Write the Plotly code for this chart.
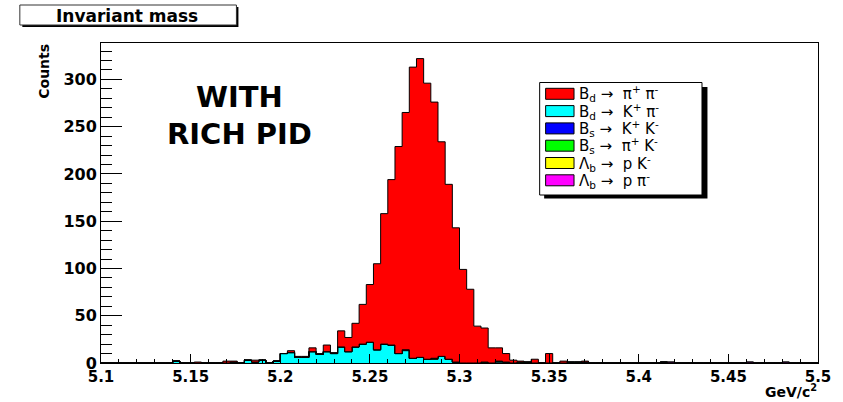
import numpy as np
import plotly.graph_objects as go

# ---------------- data (100 bins of 4 MeV from 5.1 to 5.5 GeV/c^2) ----------------
x_lo, x_hi, n_bins = 5.1, 5.5, 100

bd_pipi = [0, 0, 0, 0, 0, 0, 0, 0, 0, 0,
           0, 0, 0, 1, 0, 0, 0, 2, 1, 0,
           0, 2, 0, 0, 0, 0, 2, 1, 1, 4,
           1, 7, 1, 17, 15, 25, 42, 61, 91, 138,
           175, 219, 251, 308, 316, 292, 271, 227, 185, 142,
           99, 78, 39, 36, 16, 14, 9, 3, 1, 0,
           4, 0, 10, 0, 2, 0, 0, 1, 0, 0,
           0, 0, 0, 0, 0, 0, 0, 0, 0, 0,
           0, 0, 0, 0, 0, 0, 0, 0, 0, 0,
           0, 0, 0, 0, 0, 0, 0, 0, 0, 0]

bd_kpi = [0, 0, 0, 0, 0, 0, 0, 0, 0, 0,
          2, 0, 0, 0, 0, 0, 0, 0, 1, 0,
          3, 1, 3, 0, 2, 10, 11, 6, 6, 12,
          9, 12, 10, 17, 12, 17, 20, 22, 14, 20,
          19, 10, 13, 5, 6, 4, 4, 7, 4, 1,
          0, 0, 0, 0, 0, 1, 1, 0, 0, 0,
          0, 0, 0, 0, 0, 0, 0, 0, 0, 0,
          0, 0, 0, 0, 0, 0, 0, 0, 0, 0,
          0, 0, 0, 0, 0, 0, 0, 0, 0, 0,
          0, 0, 0, 0, 0, 0, 0, 0, 0, 0]

bs_kk = [0, 0, 0, 0, 0, 0, 0, 0, 0, 0,
         0, 0, 0, 0, 0, 0, 0, 0, 0, 0,
         0, 0, 0, 0, 0, 0, 0, 0, 0, 0,
         0, 0, 0, 0, 0, 0, 0, 0, 0, 0,
         0, 0, 1, 0, 0, 0, 0, 0, 0, 0,
         0, 0, 0, 0, 0, 0, 0, 0, 0, 0,
         0, 0, 0, 0, 0, 0, 0, 1, 0, 0,
         0, 0, 0, 0, 0, 0, 0, 0, 1, 0,
         0, 0, 0, 0, 0, 0, 0, 0, 0, 0,
         0, 0, 0, 0, 0, 0, 0, 0, 0, 0]

bs_pik = [0, 0, 0, 0, 0, 0, 0, 0, 0, 0,
          0, 0, 0, 0, 0, 0, 0, 0, 0, 0,
          0, 0, 0, 0, 0, 0, 0, 0, 0, 0,
          0, 0, 0, 0, 0, 0, 0, 0, 0, 0,
          0, 0, 0, 0, 0, 0, 1, 0, 0, 0,
          0, 0, 0, 1, 0, 1, 0, 0, 1, 1,
          0, 0, 0, 0, 0, 1, 1, 0, 0, 0,
          0, 0, 0, 0, 0, 0, 0, 0, 0, 0,
          0, 0, 0, 0, 0, 0, 0, 0, 0, 0,
          0, 0, 0, 0, 0, 0, 0, 0, 0, 0]

lb_pk = [0] * 100

lb_ppi = [0, 0, 0, 0, 0, 0, 0, 0, 0, 0,
          0, 0, 0, 0, 0, 0, 0, 0, 0, 0,
          0, 0, 0, 0, 0, 0, 0, 0, 0, 0,
          0, 0, 0, 0, 0, 0, 0, 0, 0, 0,
          0, 0, 0, 0, 0, 0, 0, 0, 0, 0,
          0, 0, 0, 0, 0, 0, 0, 0, 0, 0,
          0, 0, 0, 0, 0, 0, 0, 0, 0, 0,
          0, 0, 0, 0, 0, 0, 0, 0, 0, 1,
          0, 0, 0, 0, 0, 0, 0, 0, 0, 0,
          1, 0, 0, 0, 0, 1, 0, 0, 0, 0]

A = "\u00a0\u2192\u00a0 "
legend_labels = [
    "B<sub>d</sub>" + A + "\u03c0<sup>+</sup>\u00a0\u03c0<sup>-</sup>",
    "B<sub>d</sub>" + A + "K<sup>+</sup>\u00a0\u03c0<sup>-</sup>",
    "B<sub>s</sub>" + A + "K<sup>+</sup>\u00a0K<sup>-</sup>",
    "B<sub>s</sub>" + A + "\u03c0<sup>+</sup>\u00a0K<sup>-</sup>",
    "\u039b<sub>b</sub>" + A + "p K<sup>-</sup>",
    "\u039b<sub>b</sub>" + A + "p \u03c0<sup>-</sup>",
]
legend_colors = ["#ff0000", "#00ffff", "#0000ff", "#00ff00", "#ffff00", "#ff00ff"]
legend_series = [bd_pipi, bd_kpi, bs_kk, bs_pik, lb_pk, lb_ppi]

x_tick_vals = [5.1, 5.15, 5.2, 5.25, 5.3, 5.35, 5.4, 5.45, 5.5]
x_tick_text = ["5.1", "5.15", "5.2", "5.25", "5.3", "5.35", "5.4", "5.45", "5.5"]
y_tick_vals = [0, 50, 100, 150, 200, 250, 300]
y_max = 338.5

title_text = "Invariant mass"
x_title = "GeV/c<sup>2</sup>"
y_title = "Counts"
note_lines = ["WITH", "RICH PID"]

# ---------------- figure ----------------
W, H = 843, 402
ML, MR, MT, MB = 101, 22, 43, 39
PW, PH = W - ML - MR, H - MT - MB


def X(px):
    return (px - ML) / PW


def Y(py):
    return (H - MB - py) / PH


edges = np.linspace(x_lo, x_hi, n_bins + 1)

# stack order bottom -> top
stack_idx = [1, 2, 3, 4, 5, 0]
fig = go.Figure()
cum = np.zeros(n_bins)
for k, i in enumerate(stack_idx):
    cum = cum + np.asarray(legend_series[i], dtype=float)
    yy = np.append(cum, cum[-1])
    fig.add_trace(go.Scatter(
        x=edges, y=yy, mode="lines",
        line=dict(shape="hv", color="black", width=1),
        fill="tozeroy" if k == 0 else "tonexty",
        fillcolor=legend_colors[i],
        showlegend=False, hoverinfo="skip",
    ))

fig.update_layout(
    width=W, height=H,
    margin=dict(l=ML, r=MR, t=MT, b=MB, pad=0),
    paper_bgcolor="white", plot_bgcolor="white",
    showlegend=False,
    xaxis=dict(
        range=[x_lo, x_hi], showgrid=False, zeroline=False,
        showline=True, linecolor="black", linewidth=1, mirror=True,
        ticks="inside", ticklen=9, tickwidth=1, tickcolor="black",
        tickvals=x_tick_vals, ticktext=x_tick_text,
        tickfont=dict(family="DejaVu Sans", size=15, color="black", weight="bold"),
        minor=dict(dtick=0.01, tick0=5.1, ticks="inside", ticklen=4,
                   tickcolor="black", showgrid=False),
    ),
    yaxis=dict(
        range=[0, y_max], showgrid=False, zeroline=False,
        showline=True, linecolor="black", linewidth=1, mirror=True,
        ticks="inside", ticklen=21, tickwidth=1, tickcolor="black",
        tickvals=y_tick_vals,
        tickfont=dict(family="DejaVu Sans", size=16, color="black", weight="bold"),
        minor=dict(dtick=10, tick0=0, ticks="inside", ticklen=11,
                   tickcolor="black", showgrid=False),
    ),
)

shapes = []
annotations = []

# title box with shadow
shapes.append(dict(type="rect", xref="paper", yref="paper",
                   x0=X(22), x1=X(239), y0=Y(27), y1=Y(7),
                   fillcolor="black", line=dict(width=0), layer="above"))
shapes.append(dict(type="rect", xref="paper", yref="paper",
                   x0=X(19.5), x1=X(237), y0=Y(25), y1=Y(5),
                   fillcolor="white", line=dict(color="#333", width=1), layer="above"))
annotations.append(dict(xref="paper", yref="paper", x=X(127), y=Y(15.5),
                        text=title_text, showarrow=False, xanchor="center", yanchor="middle",
                        font=dict(family="DejaVu Sans", size=17, color="black", weight="bold")))

# legend box with shadow
shapes.append(dict(type="rect", xref="paper", yref="paper",
                   x0=X(546), x1=X(710), y0=Y(198.5), y1=Y(87),
                   fillcolor="black", line=dict(width=0), layer="above"))
shapes.append(dict(type="rect", xref="paper", yref="paper",
                   x0=X(541.5), x1=X(704.5), y0=Y(195), y1=Y(82.5),
                   fillcolor="white", line=dict(color="black", width=1), layer="above"))
for r, (lab, col) in enumerate(zip(legend_labels, legend_colors)):
    cy = 93.8 + 17.3 * r
    shapes.append(dict(type="rect", xref="paper", yref="paper",
                       x0=X(547.5), x1=X(576), y0=Y(cy + 5.5), y1=Y(cy - 5.5),
                       fillcolor=col, line=dict(color="black", width=1), layer="above"))
    annotations.append(dict(xref="paper", yref="paper", x=X(579), y=Y(cy),
                            text=lab, showarrow=False, xanchor="left", yanchor="middle",
                            font=dict(family="DejaVu Sans", size=15, color="black")))

# WITH / RICH PID
annotations.append(dict(xref="paper", yref="paper", x=X(240), y=Y(97),
                        text=note_lines[0], showarrow=False, xanchor="center", yanchor="middle",
                        font=dict(family="DejaVu Sans", size=29, color="black", weight="bold")))
annotations.append(dict(xref="paper", yref="paper", x=X(240), y=Y(134),
                        text=note_lines[1], showarrow=False, xanchor="center", yanchor="middle",
                        font=dict(family="DejaVu Sans", size=29, color="black", weight="bold")))

# axis titles
annotations.append(dict(xref="paper", yref="paper", x=X(44), y=Y(42),
                        text=y_title, showarrow=False, textangle=-90,
                        xanchor="center", yanchor="top",
                        font=dict(family="DejaVu Sans", size=14, color="black", weight="bold")))
annotations.append(dict(xref="paper", yref="paper", x=X(822), y=Y(391),
                        text=x_title, showarrow=False, xanchor="right", yanchor="middle",
                        font=dict(family="DejaVu Sans", size=14, color="black", weight="bold")))

fig.update_layout(shapes=shapes, annotations=annotations)
fig.write_html("out.html")
